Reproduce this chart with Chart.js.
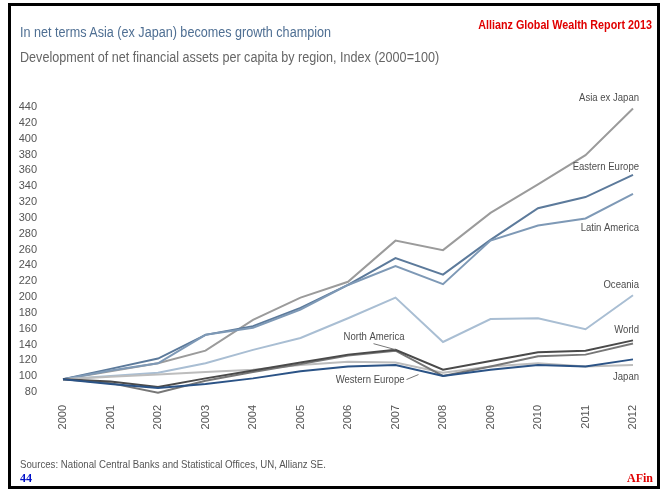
<!DOCTYPE html>
<html>
<head>
<meta charset="utf-8">
<script src="https://cdn.jsdelivr.net/npm/chart.js@4/dist/chart.umd.min.js"></script>
<style>
  html, body { margin: 0; padding: 0; background: #fff; }
  #page { position: relative; width: 669px; height: 490px; overflow: hidden; background: #fff; }
  #frame { position: absolute; left: 8px; top: 3px; width: 646px; height: 480px; border: 3px solid #000; }
  canvas { position: absolute; left: 0; top: 0; }
  .txt { position: absolute; white-space: nowrap; font-family: "Liberation Sans", Arial, sans-serif; transform-origin: 0 50%; }
  #title { left: 20px; top: 24px; font-size: 14px; color: #4f6f93; transform: scaleX(0.9); }
  #subtitle { left: 20px; top: 49px; font-size: 14px; color: #666; transform: scaleX(0.9); }
  #brand { right: 17px; top: 18px; font-size: 12.5px; font-weight: bold; color: #e00000; transform-origin: 100% 50%; transform: scaleX(0.86); }
  #source { left: 20px; top: 458px; font-size: 10.5px; color: #555; transform: scaleX(0.92); }
  #page-no { left: 20px; top: 471px; font: bold 12px "Liberation Serif", serif; color: #0010c8; }
  #tag { right: 16px; top: 471px; font: bold 12px "Liberation Serif", serif; color: #e00000; }
</style>
</head>
<body>
<div id="page">
  <canvas id="wealthChart" width="669" height="490"></canvas>
  <div id="frame"></div>
  <div class="txt" id="title">In net terms Asia (ex Japan) becomes growth champion</div>
  <div class="txt" id="subtitle">Development of net financial assets per capita by region, Index (2000=100)</div>
  <div class="txt" id="brand">Allianz Global Wealth Report 2013</div>
  <div class="txt" id="source">Sources: National Central Banks and Statistical Offices, UN, Allianz SE.</div>
  <div class="txt" id="page-no">44</div>
  <div class="txt" id="tag">AFin</div>
</div>
<script>
const years = ["2000", "2001", "2002", "2003", "2004", "2005", "2006", "2007", "2008", "2009", "2010", "2011", "2012"];
const yTicks = [80, 100, 120, 140, 160, 180, 200, 220, 240, 260, 280, 300, 320, 340, 360, 380, 400, 420, 440];

const asiaExJapan   = [100, 110, 120, 136, 175, 203, 223, 275, 263, 310, 346, 383, 442];
const easternEurope = [100, 113, 126, 156, 167, 190, 219, 253, 232, 276, 316, 330, 358];
const latinAmerica  = [100, 111, 120, 156, 165, 188, 219, 243, 220, 275, 294, 303, 334];
const oceania       = [100, 104, 108, 120, 137, 152, 177, 203, 147, 176, 177, 163, 206];
const world         = [100, 97, 90, 101, 111, 121, 131, 137, 112, 123, 134, 136, 149];
const northAmerica  = [100, 95, 83, 98, 109, 119, 130, 136, 104, 116, 129, 131, 145];
const westernEurope = [100, 103, 106, 109, 112, 118, 122, 121, 108, 116, 120, 116, 118];
const japan         = [100, 94, 89, 94, 101, 110, 116, 118, 104, 112, 118, 116, 125];

// where each series name sits, relative to one of its points
const labelSpots = {
  "Asia ex Japan":  { i: 12, dx: 6, dy: -11 },
  "Eastern Europe": { i: 12, dx: 6, dy: -8 },
  "Latin America":  { i: 12, dx: 6, dy: 34 },
  "Oceania":        { i: 12, dx: 6, dy: -10 },
  "World":          { i: 12, dx: 6, dy: -11 },
  "Japan":          { i: 12, dx: 6, dy: 17 },
  "North America":  { i: 7, dx: 9, dy: -14, leader: [-22, -7, 0, -1] },
  "Western Europe": { i: 7, dx: 9, dy: 17, leader: [11, 17, 23, 12] }
};

const line = (label, data, color) => ({
  label, data,
  borderColor: color,
  borderWidth: 2,
  pointRadius: 0,
  tension: 0,
  fill: false,
  clip: false
});

const seriesNames = {
  id: "seriesNames",
  afterDatasetsDraw(chart) {
    const ctx = chart.ctx;
    chart.data.datasets.forEach((ds, k) => {
      const spot = labelSpots[ds.label];
      const pt = chart.getDatasetMeta(k).data[spot.i];
      ctx.save();
      if (spot.leader) {
        const [x1, y1, x2, y2] = spot.leader;
        ctx.strokeStyle = "#777";
        ctx.lineWidth = 1;
        ctx.beginPath();
        ctx.moveTo(pt.x + x1, pt.y + y1);
        ctx.lineTo(pt.x + x2, pt.y + y2);
        ctx.stroke();
      }
      // squeeze the text a little, the names are set in a condensed face
      ctx.translate(pt.x + spot.dx, pt.y + spot.dy);
      ctx.scale(0.83, 1);
      ctx.font = '11.5px "Liberation Sans", Arial, sans-serif';
      ctx.fillStyle = "#4d4d4d";
      ctx.textAlign = "right";
      ctx.textBaseline = "middle";
      ctx.fillText(ds.label, 0, 0);
      ctx.restore();
    });
  }
};

const tickFont = { family: '"Liberation Sans", Arial, sans-serif', size: 11 };

new Chart(document.getElementById("wealthChart").getContext("2d"), {
  type: "line",
  data: {
    labels: years,
    datasets: [
      line("Japan", japan, "#2b5386"),
      line("World", world, "#4a4a4a"),
      line("North America", northAmerica, "#777777"),
      line("Western Europe", westernEurope, "#bdbdbd"),
      line("Oceania", oceania, "#a9bed3"),
      line("Latin America", latinAmerica, "#7e99b6"),
      line("Eastern Europe", easternEurope, "#5c7a9b"),
      line("Asia ex Japan", asiaExJapan, "#9b9b9b")
    ]
  },
  options: {
    responsive: false,
    animation: false,
    layout: { padding: { top: 110, right: 36, bottom: 0, left: 0 } },
    plugins: { legend: { display: false }, tooltip: { enabled: false } },
    scales: {
      x: {
        grid: { display: false, drawTicks: false },
        border: { display: false },
        ticks: { color: "#555", font: tickFont, minRotation: 90, maxRotation: 90, autoSkip: false, padding: 10 },
        afterFit: (scale) => { scale.height = 95; }
      },
      y: {
        min: 80,
        max: 440,
        grid: { display: false, drawTicks: false },
        border: { display: false },
        ticks: { color: "#555", font: tickFont, padding: 26, autoSkip: false, labelOffset: -3 },
        afterBuildTicks: (scale) => { scale.ticks = yTicks.map((v) => ({ value: v })); },
        afterFit: (scale) => { scale.width = 63; }
      }
    }
  },
  plugins: [seriesNames]
});
</script>
</body>
</html>
